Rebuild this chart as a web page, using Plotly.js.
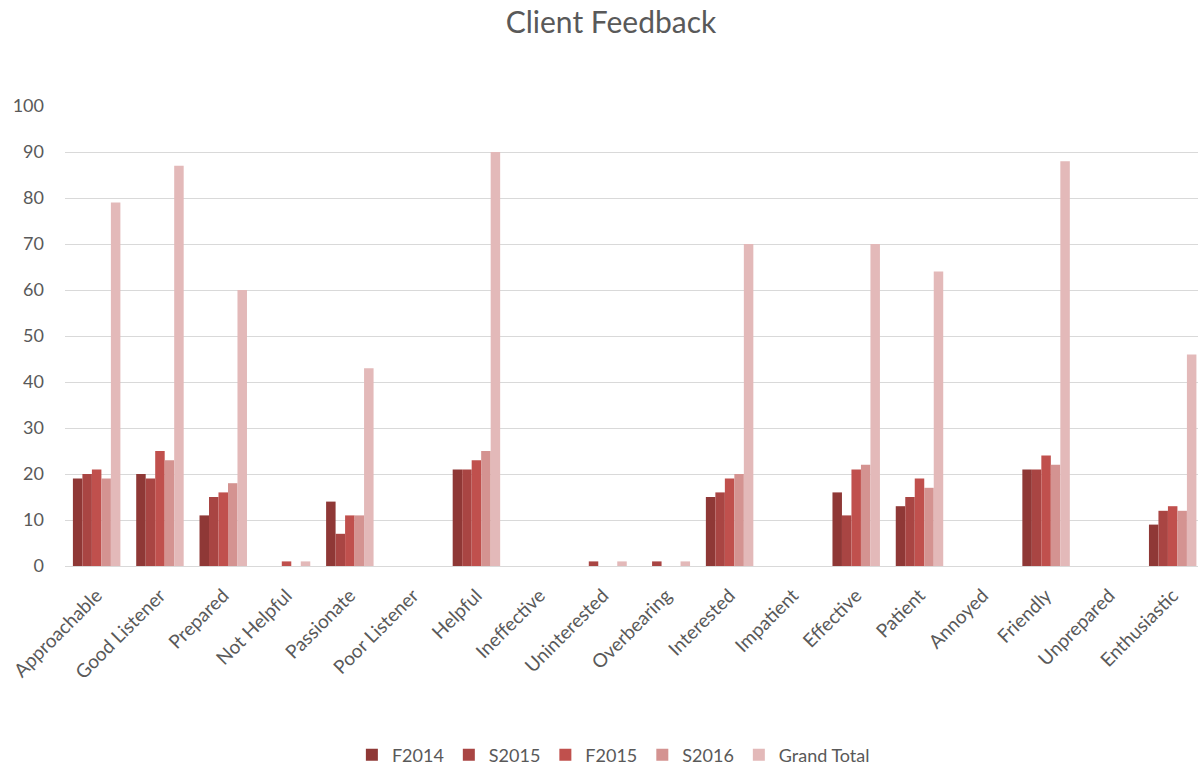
<!DOCTYPE html>
<html>
<head>
<meta charset="utf-8">
<script src="https://cdn.plot.ly/plotly-3.0.1.min.js"></script>
<style>html,body{margin:0;padding:0;background:#fff;}#chart{width:1198px;height:769px;}</style>
</head>
<body>
<div id="chart"></div>
<script>
const categories = ["Approachable","Good Listener","Prepared","Not Helpful","Passionate","Poor Listener","Helpful","Ineffective","Uninterested","Overbearing","Interested","Impatient","Effective","Patient","Annoyed","Friendly","Unprepared","Enthusiastic"];
const seriesNames = ["F2014","S2015","F2015","S2016","Grand Total"];
const f2014 = [19,20,11,0,14,0,21,0,0,0,15,0,16,13,0,21,0,9];
const s2015 = [20,19,15,0,7,0,21,0,1,1,16,0,11,15,0,21,0,12];
const f2015 = [21,25,16,1,11,0,23,0,0,0,19,0,21,19,0,24,0,13];
const s2016 = [19,23,18,0,11,0,25,0,0,0,20,0,22,17,0,22,0,12];
const grandTotal = [79,87,60,1,43,0,90,0,1,1,70,0,70,64,0,88,0,46];
const colors = ["#8F3836","#A94543","#C0504D","#D49391","#E3B9B9"];

const values = [f2014, s2015, f2015, s2016, grandTotal];
const data = values.map((v, i) => ({
  type: "bar",
  name: seriesNames[i],
  x: categories,
  y: v,
  marker: {color: colors[i], line: {width: 0}},
  hoverinfo: "x+y+name"
}));

const font = "Lato, 'Open Sans', 'DejaVu Sans', sans-serif";
const layout = {
  width: 1198,
  height: 769,
  paper_bgcolor: "#ffffff",
  plot_bgcolor: "#ffffff",
  margin: {l: 65, r: 0, t: 106, b: 203},
  title: {
    text: "Client Feedback",
    font: {family: font, size: 30, color: "#595959"},
    x: 0.51, xref: "container", xanchor: "center",
    y: 0.971, yref: "container", yanchor: "middle"
  },
  barmode: "group",
  bargap: 0.25,
  bargroupgap: 0,
  showlegend: true,
  legend: {
    orientation: "h",
    xref: "container", yref: "container",
    x: 0.512, xanchor: "center",
    y: 0.018, yanchor: "middle",
    font: {family: font, size: 18, color: "#595959"},
    traceorder: "normal",
    itemwidth: 30
  },
  xaxis: {
    type: "category",
    range: [-0.5, 17.4],
    tickangle: -45,
    tickfont: {family: font, size: 19, color: "#595959"},
    ticklabelstandoff: 10,
    showgrid: false,
    showline: true,
    linecolor: "#D9D9D9",
    linewidth: 1,
    ticks: "",
    fixedrange: true
  },
  yaxis: {
    range: [0, 100],
    dtick: 10,
    tick0: 0,
    showgrid: true,
    gridcolor: "#D9D9D9",
    gridwidth: 1,
    zeroline: true,
    zerolinecolor: "#D9D9D9",
    zerolinewidth: 1,
    showline: false,
    ticks: "",
    ticklabelstandoff: 20,
    tickfont: {family: font, size: 18, color: "#595959"},
    fixedrange: true
  }
};

Plotly.newPlot("chart", data, layout, {displayModeBar: false, staticPlot: true});
</script>
</body>
</html>
